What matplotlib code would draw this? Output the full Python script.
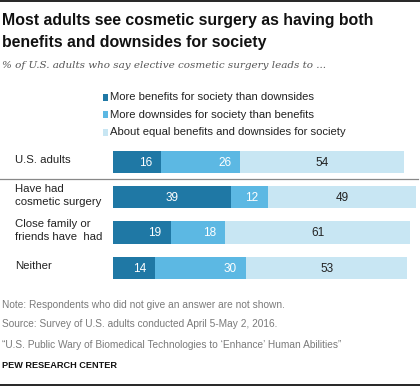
import numpy as np
import matplotlib.pyplot as plt
from matplotlib.lines import Line2D
from matplotlib.patches import Rectangle
from matplotlib.transforms import blended_transform_factory

GROUPS = ["U.S. adults", "Have had\ncosmetic surgery", "Close family or\nfriends have  had", "Neither"]
MORE_BENEFITS = [16, 39, 19, 14]
MORE_DOWNSIDES = [26, 12, 18, 30]
ABOUT_EQUAL = [54, 49, 61, 53]
SERIES_LABELS = ["More benefits for society than downsides",
                 "More downsides for society than benefits",
                 "About equal benefits and downsides for society"]

COLORS = ["#1f78a5", "#5cb8e3", "#c8e6f3"]
TXT_COLORS = ["white", "white", "#222222"]
W, H = 420, 386

plt.rcParams["font.family"] = ["Liberation Sans", "DejaVu Sans"]
fig = plt.figure(figsize=(W / 100, H / 100), dpi=100)


def fy(px):
    return 1 - px / H


def fx(px):
    return px / W


# top and bottom rules
fig.add_artist(Line2D([0, 1], [fy(1), fy(1)], color="black", lw=1.2))
fig.add_artist(Line2D([0, 1], [fy(385), fy(385)], color="black", lw=1.2))

fig.text(fx(2), fy(21), "Most adults see cosmetic surgery as having both",
         fontsize=11.4, fontweight="bold", va="center", color="#111111")
fig.text(fx(2), fy(43), "benefits and downsides for society",
         fontsize=11.4, fontweight="bold", va="center", color="#111111")
fig.text(fx(2), fy(65), "% of U.S. adults who say elective cosmetic surgery leads to ...",
         fontsize=7.5, style="italic", family=["DejaVu Serif"], va="center", color="#555555")

# legend
for i, lab in enumerate(SERIES_LABELS):
    y = [97, 114.5, 132][i]
    fig.add_artist(Rectangle((fx(102.5), fy(y + 3.5)), fx(6), 7 / H,
                             facecolor=COLORS[i], edgecolor="none"))
    fig.text(fx(110), fy(y), lab, fontsize=8.1, va="center", color="#222222")

ax = fig.add_axes([fx(113), fy(285.6), fx(416) - fx(113), 141.3 / H])
ypos = np.arange(len(GROUPS))
left = np.zeros(len(GROUPS))
for vals, col, tc in zip([MORE_BENEFITS, MORE_DOWNSIDES, ABOUT_EQUAL], COLORS, TXT_COLORS):
    vals = np.array(vals, dtype=float)
    ax.barh(ypos, vals, left=left, height=0.63, color=col, edgecolor="none")
    for y, l, v in zip(ypos, left, vals):
        xt = l + v / 2 if v >= 35 else l + v - 5.2
        ax.text(xt, y + 0.02, f"{v:.0f}", ha="center", va="center",
                fontsize=8.5, color=tc)
    left += vals
ax.set_xlim(0, 100)
ax.set_ylim(3.5, -0.5)
ax.axis("off")

trans = blended_transform_factory(fig.transFigure, ax.transData)
for y, g in zip(ypos, GROUPS):
    ax.text(fx(15), y - 0.05, g, transform=trans, ha="left", va="center",
            fontsize=8.2, color="#222222", linespacing=1.4)

fig.add_artist(Line2D([0, fx(418)], [fy(179), fy(179)], color="#888888", lw=0.9))

grey = "#7a7a7a"
fig.text(fx(2), fy(305), "Note: Respondents who did not give an answer are not shown.",
         fontsize=7.3, color=grey, va="center")
fig.text(fx(2), fy(324), "Source: Survey of U.S. adults conducted April 5-May 2, 2016.",
         fontsize=7.3, color=grey, va="center")
fig.text(fx(2), fy(345),
         "\u201cU.S. Public Wary of Biomedical Technologies to \u2018Enhance\u2019 Human Abilities\u201d",
         fontsize=7.3, color=grey, va="center")
fig.text(fx(2), fy(365), "PEW RESEARCH CENTER", fontsize=6.6, fontweight="bold",
         color="#111111", va="center")

fig.savefig("out.png", dpi=100)
